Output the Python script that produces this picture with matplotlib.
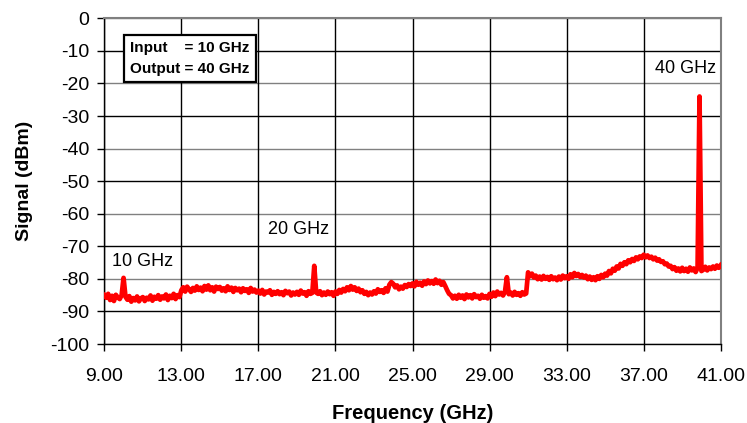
import numpy as np
import matplotlib
matplotlib.use('Agg')
import matplotlib.pyplot as plt

plt.rcParams['font.family'] = ['Liberation Sans', 'DejaVu Sans']
plt.rcParams['axes.unicode_minus'] = False

# sweep grid: 9 to 41 GHz, 0.1 GHz steps
freq = np.round(np.arange(9.0, 41.05, 0.1), 1)

signal = [
    -85.0, -85.8, -84.6, -86.5, -85.2, -86.8, -84.9, -85.7, -86.2, -85.0,   # 9
    -79.7, -85.5, -86.4, -85.3, -87.0, -85.9, -86.6, -85.4, -86.9, -86.0,   # 10
    -85.6, -86.8, -85.8, -86.3, -85.1, -86.7, -85.5, -86.1, -85.0, -86.4,   # 11
    -85.4, -86.0, -84.8, -86.5, -85.2, -85.9, -84.6, -86.2, -85.0, -85.6,   # 12
    -83.5, -82.6, -83.9, -82.4, -83.2, -84.0, -82.8, -83.6, -82.3, -83.4,   # 13
    -82.7, -83.8, -82.2, -83.3, -82.0, -83.5, -82.6, -83.9, -82.4, -83.1,   # 14
    -82.5, -83.6, -82.9, -83.8, -82.3, -83.4, -82.7, -84.0, -82.8, -83.5,   # 15
    -83.0, -84.1, -82.9, -83.7, -83.2, -84.3, -82.8, -83.9, -83.3, -84.2,   # 16
    -83.6, -84.5, -83.4, -84.8, -83.9, -84.2, -83.5, -84.9, -84.0, -84.6,   # 17
    -83.8, -84.7, -84.1, -85.0, -83.7, -84.4, -83.9, -85.1, -84.2, -84.8,   # 18
    -84.0, -84.9, -83.6, -84.5, -84.1, -85.2, -83.8, -84.6, -84.3, -76.0,   # 19
    -84.2, -84.6, -83.8, -85.0, -84.2, -84.9, -83.9, -84.7, -84.1, -85.2,   # 20
    -83.9, -84.6, -83.4, -84.2, -83.1, -83.8, -82.6, -83.5, -82.2, -83.3,   # 21
    -82.6, -83.7, -83.0, -84.1, -83.5, -84.6, -84.0, -85.0, -84.2, -84.8,   # 22
    -83.8, -84.5, -83.2, -84.0, -83.5, -84.3, -82.9, -83.9, -81.8, -81.0,   # 23
    -81.5, -82.6, -82.0, -83.2, -82.4, -83.0, -81.9, -82.5, -81.6, -82.2,   # 24
    -81.4, -82.3, -80.9, -81.8, -81.2, -82.1, -80.8, -81.6, -80.5, -81.4,   # 25
    -80.7, -81.5, -80.2, -81.3, -80.6, -81.8, -81.0, -82.2, -83.5, -84.6,   # 26
    -85.0, -86.0, -85.2, -86.1, -84.9, -85.8, -85.1, -86.2, -84.8, -85.7,   # 27
    -85.0, -86.0, -84.7, -85.6, -85.2, -86.1, -84.9, -85.8, -85.3, -86.0,   # 28
    -84.6, -85.5, -84.2, -85.3, -83.9, -84.8, -84.3, -85.1, -84.0, -79.5,   # 29
    -84.7, -84.2, -85.1, -84.0, -84.9, -84.4, -85.2, -84.1, -84.8, -84.5,   # 30
    -78.0, -79.2, -78.4, -79.6, -79.0, -80.1, -79.3, -80.2, -79.1, -80.0,   # 31
    -79.4, -80.3, -79.2, -80.1, -79.6, -80.4, -79.3, -80.2, -79.0, -79.8,   # 32
    -79.2, -80.0, -78.6, -79.5, -78.2, -79.1, -78.5, -79.4, -78.8, -79.6,   # 33
    -79.0, -80.1, -79.3, -80.3, -79.5, -80.4, -79.2, -80.0, -78.8, -79.5,   # 34
    -78.4, -79.0, -77.6, -78.3, -76.9, -77.5, -76.2, -76.8, -75.4, -76.0,   # 35
    -74.9, -75.5, -74.3, -74.9, -73.9, -74.5, -73.4, -74.0, -73.1, -73.6,   # 36
    -72.6, -73.4, -72.8, -73.6, -73.2, -74.0, -73.5, -74.4, -74.0, -74.8,   # 37
    -74.6, -75.5, -75.3, -76.2, -76.0, -77.0, -76.4, -77.5, -76.8, -77.7,   # 38
    -76.6, -77.6, -76.9, -77.8, -76.5, -77.4, -76.8, -77.9, -76.6, -24.0,   # 39
    -77.6, -77.2, -76.3, -77.4, -76.5, -77.0, -76.2, -76.9, -75.9, -76.6,   # 40
    -75.8,                                                                  # 41
]

xticks = [9, 13, 17, 21, 25, 29, 33, 37, 41]
yticks = list(range(-100, 1, 10))

# peak labels: (text, x, y, alignment)
peak_labels = [
    ("10 GHz", 9.4, -74.8, 'left'),
    ("20 GHz", 17.5, -64.7, 'left'),
    ("40 GHz", 40.75, -15.4, 'right'),
]
box_text = "Input    = 10 GHz\nOutput = 40 GHz"

fig = plt.figure(figsize=(7.47, 4.23), dpi=100)
ax = fig.add_axes([104.3 / 747, 1 - 344 / 423, 616.4 / 747, 325.7 / 423])

# grid: odd tens in black, even tens look grey in the original
for y in yticks:
    col = '#808080' if (y // 10) % 2 == 0 else 'black'
    ax.axhline(y, color=col, lw=1.0, zorder=1)
for x in xticks:
    ax.axvline(x, color='black', lw=1.0, zorder=1)

ax.plot(freq, signal, color='#ff0000', lw=3.4, zorder=3)

ax.set_xlim(9, 41)
ax.set_ylim(-100, 0)
ax.set_xticks(xticks)
ax.set_xticklabels([f"{x:.2f}" for x in xticks])
ax.set_yticks(yticks)
ax.set_yticklabels([str(y) for y in yticks])
ax.tick_params(axis='x', direction='out', length=5, width=1, pad=12, labelsize=14)
ax.tick_params(axis='y', direction='out', length=5, width=1, pad=6, labelsize=14)

for side in ['left', 'bottom']:
    ax.spines[side].set_color('black')
    ax.spines[side].set_linewidth(1.0)
for side in ['top', 'right']:
    ax.spines[side].set_color('#808080')
    ax.spines[side].set_linewidth(1.5)

ax.set_xlabel('Frequency (GHz)', fontsize=14.5, fontweight='bold', labelpad=14)
ax.set_ylabel('Signal (dBm)', fontsize=14, fontweight='bold', labelpad=12)

for txt, x, y, ha in peak_labels:
    ax.text(x, y, txt, ha=ha, va='center', fontsize=13, zorder=4)

ax.text(0.042, 0.93, box_text, transform=ax.transAxes, ha='left', va='top',
        fontsize=11, fontweight='bold', linespacing=1.6, zorder=5,
        bbox=dict(boxstyle='square,pad=0.4', facecolor='white', edgecolor='black', lw=1.6))

fig.savefig('out.png', dpi=100)
